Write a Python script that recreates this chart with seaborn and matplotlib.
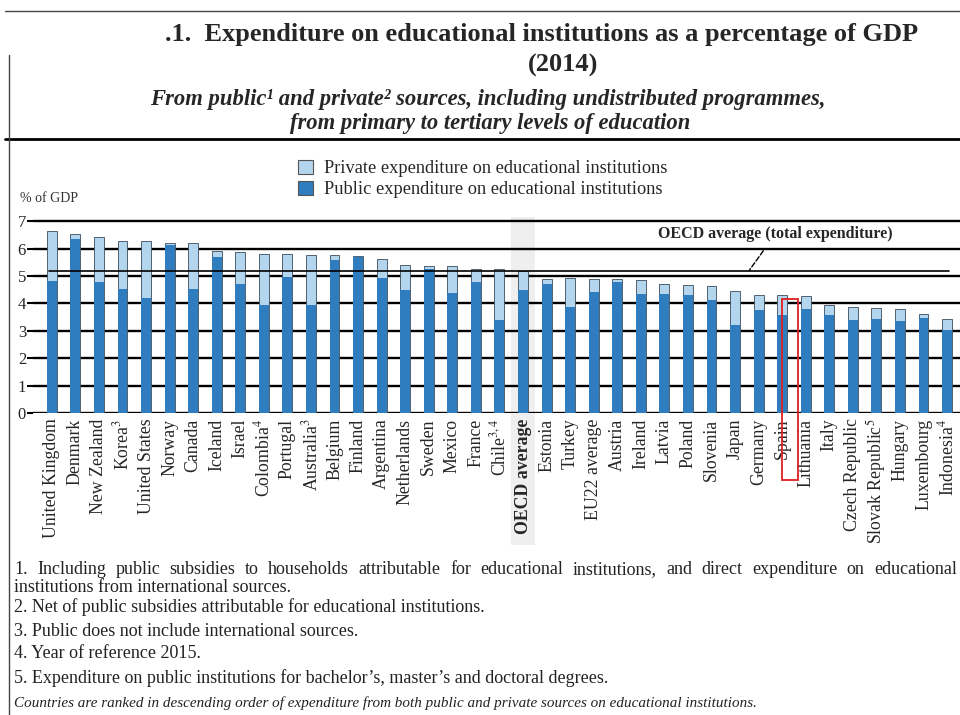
import numpy as np
import pandas as pd
import seaborn as sns
import matplotlib.pyplot as plt
from matplotlib.lines import Line2D
from matplotlib.patches import Patch, Rectangle

countries = ["United Kingdom", "Denmark", "New Zealand", "Korea$^{3}$", "United States",
             "Norway", "Canada", "Iceland", "Israel", "Colombia$^{4}$", "Portugal",
             "Australia$^{3}$", "Belgium", "Finland", "Argentina", "Netherlands", "Sweden",
             "Mexico", "France", "Chile$^{3,4}$", "OECD average", "Estonia", "Turkey",
             "EU22 average", "Austria", "Ireland", "Latvia", "Poland", "Slovenia", "Japan",
             "Germany", "Spain", "Lithuania", "Italy", "Czech Republic",
             "Slovak Republic$^{5}$", "Hungary", "Luxembourg", "Indonesia$^{4}$"]

public = [4.82, 6.36, 4.78, 4.54, 4.18, 6.14, 4.54, 5.69, 4.72, 3.94, 4.97,
          3.94, 5.57, 5.69, 4.93, 4.48, 5.27, 4.38, 4.78, 3.39, 4.48, 4.70, 3.88,
          4.42, 4.78, 4.34, 4.34, 4.30, 4.14, 3.21, 3.75, 3.57, 3.81, 3.57, 3.39,
          3.42, 3.37, 3.45, 3.03]

private = [1.84, 0.18, 1.64, 1.73, 2.08, 0.06, 1.66, 0.24, 1.15, 1.87, 0.84,
           1.84, 0.21, 0.04, 0.69, 0.91, 0.10, 0.99, 0.49, 1.88, 0.69, 0.20, 1.05,
           0.48, 0.12, 0.50, 0.38, 0.36, 0.49, 1.23, 0.55, 0.73, 0.45, 0.39, 0.49,
           0.43, 0.44, 0.16, 0.40]

oecd_total = 5.2

df = pd.DataFrame({"country": countries, "public": public, "private": private})
df["total"] = df["public"] + df["private"]

sns.set_style("white")
plt.rcParams['font.family'] = ['Liberation Serif', 'DejaVu Serif']
plt.rcParams['mathtext.fontset'] = 'stix'

pub_col = "#2f7dbf"
priv_col = "#b4d5ee"

fig = plt.figure(figsize=(9.6, 7.15), dpi=100)
ax = fig.add_axes([33 / 960, 1 - 413 / 715, 927 / 960, 200 / 715])

# light grey band behind the OECD average bar and label
oecd_i = countries.index("OECD average")
ax.axvspan(oecd_i - 0.5, oecd_i + 0.5, ymin=-0.66, ymax=0.98, color="#efefef",
           zorder=0, clip_on=False, lw=0)

sns.barplot(data=df, x="country", y="total", order=countries, color=priv_col,
            saturation=1, width=0.42, edgecolor="#3a4a5a", linewidth=0.6, ax=ax, zorder=3)
sns.barplot(data=df, x="country", y="public", order=countries, color=pub_col,
            saturation=1, width=0.42, linewidth=0, ax=ax, zorder=4)

ax.set_ylim(0, 7.3)
ax.set_xlim(-0.8, len(countries) - 0.45)
ax.set_yticks(range(8))
ax.yaxis.grid(True, color="black", linewidth=1.7, zorder=1)
ax.set_axisbelow(True)
for s in ax.spines.values():
    s.set_visible(False)
ax.tick_params(axis="y", left=True, length=4, width=1.5, color="black", pad=1,
               labelsize=12)
ax.tick_params(axis="x", length=0, pad=4)
ax.set_xlabel("")
ax.set_ylabel("")
ax.set_xticks(range(len(countries)))
ax.set_xticklabels(countries, rotation=90, fontsize=12.8)
ax.get_xticklabels()[oecd_i].set_fontweight("bold")

# OECD average line
ax.plot([-0.1, len(countries) - 0.9], [oecd_total, oecd_total], color="black",
        lw=1.2, zorder=5)
ax.annotate("OECD average (total expenditure)", xy=(29.6, oecd_total),
            xytext=(30.7, 6.52), ha="center", va="center", fontsize=11.5,
            fontweight="bold", zorder=6,
            bbox=dict(boxstyle="square,pad=0.1", fc="white", ec="none"),
            arrowprops=dict(arrowstyle="-", linestyle="--", color="black", lw=1,
                            shrinkA=6, shrinkB=0))

# red highlight box
spain_i = countries.index("Spain")
ax.add_patch(Rectangle((spain_i, -2.44), 0.68, 6.6, fill=False, edgecolor="#e02020",
                       lw=1.3, clip_on=False, zorder=7))

# legend
handles = [Patch(facecolor=priv_col, edgecolor="#555555", lw=0.8,
                 label="Private expenditure on educational institutions"),
           Patch(facecolor=pub_col, edgecolor="#555555", lw=0.8,
                 label="Public expenditure on educational institutions")]
fig.legend(handles=handles, loc="upper left", bbox_to_anchor=(298 / 960, 1 - 160 / 715),
           frameon=False, fontsize=13.2, handlelength=0.8, handleheight=0.8,
           handletextpad=0.6, labelspacing=0.2, borderpad=0, borderaxespad=0)

fig.text(20 / 960, 1 - 199 / 715, "% of GDP", fontsize=10, va="center", ha="left",
         color="#333333")

# titles
fig.text(542 / 960, 1 - 35 / 715,
         ".1.  Expenditure on educational institutions as a percentage of GDP",
         ha="center", va="center", fontsize=19, fontweight="bold")
fig.text(563 / 960, 1 - 65 / 715, "(2014)", ha="center", va="center", fontsize=19,
         fontweight="bold")
fig.text(488 / 960, 1 - 100 / 715,
         "From public¹ and private² sources, including undistributed programmes,",
         ha="center", va="center", fontsize=16.3, fontweight="bold", style="italic")
fig.text(490 / 960, 1 - 124 / 715, "from primary to tertiary levels of education",
         ha="center", va="center", fontsize=16.3, fontweight="bold", style="italic")

# frame lines
fig.add_artist(Line2D([5 / 960, 1], [1 - 11 / 715, 1 - 11 / 715], color="#444444", lw=1))
fig.add_artist(Line2D([5 / 960, 1], [1 - 139 / 715, 1 - 139 / 715], color="black", lw=2))
fig.add_artist(Line2D([9 / 960, 9 / 960], [0, 1 - 55 / 715], color="#444444", lw=1))

# footnotes
note_fs = 13
first = "1. Including public subsidies to households attributable for educational institutions, and direct expenditure on educational"
# justify the first line across the width
renderer = fig.canvas.get_renderer()
words = first.split(" ")
widths = []
for w in words:
    t = fig.text(0, 0, w, fontsize=note_fs)
    widths.append(t.get_window_extent(renderer).width)
    t.remove()
x0, x1 = 14, 957
gap = (x1 - x0 - sum(widths)) / (len(words) - 1)
x = x0
for w, wd in zip(words, widths):
    fig.text(x / 960, 1 - 570 / 715, w, fontsize=note_fs, va="center", ha="left",
             color="#222222")
    x += wd + gap

notes = [
    ("institutions from international sources.", 588),
    ("2. Net of public subsidies attributable for educational institutions.", 607),
    ("3. Public does not include international sources.", 631),
    ("4. Year of reference 2015.", 654),
    ("5. Expenditure on public institutions for bachelor’s, master’s and doctoral degrees.", 678),
]
for txt, y in notes:
    fig.text(14 / 960, 1 - y / 715, txt, fontsize=note_fs, va="center", ha="left",
             color="#222222")
fig.text(14 / 960, 1 - 703 / 715,
         "Countries are ranked in descending order of expenditure from both public and private sources on educational institutions.",
         fontsize=10.9, style="italic", va="center", ha="left", color="#222222")

fig.savefig("out.png", dpi=100)
